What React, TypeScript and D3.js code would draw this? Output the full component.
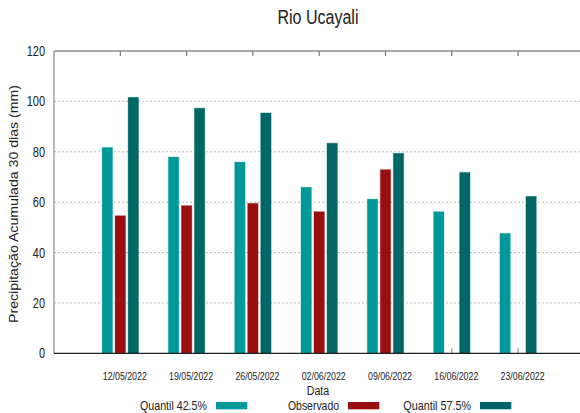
import React from "react";
import * as d3 from "d3";

const categories = ["12/05/2022", "19/05/2022", "26/05/2022", "02/06/2022", "09/06/2022", "16/06/2022", "23/06/2022"];
const seriesNames = ["Quantil 42.5%", "Observado", "Quantil 57.5%"];
const quantil425 = [81.7, 77.9, 75.9, 65.9, 61.2, 56.2, 47.6];
const observado: (number | null)[] = [54.6, 58.6, 59.5, 56.2, 72.9, null, null];
const quantil575 = [101.6, 97.3, 95.4, 83.4, 79.4, 71.8, 62.3];
const colors = ["#009999", "#990f0f", "#006666"];
const yTicks = [0, 20, 40, 60, 80, 100, 120];

const W = 580, H = 413;
const FONT = "'Liberation Sans', Arial, sans-serif";

export default function App() {
  const left = 54, top = 51, bottom = 353.3;
  const step = 66.3;
  const x = d3.scaleLinear().domain([0, 8]).range([left, left + step * 8]);
  const y = d3.scaleLinear().domain([0, 120]).range([bottom, top]);
  const band = d3.scaleBand<string>().domain(seriesNames).range([-19.5, 19.5]).paddingInner(0.2).paddingOuter(0.1);
  const all = [quantil425, observado, quantil575];
  const legendX = [216, 348, 480];
  const legendW = [67, 51, 67.7];

  return (
    <svg width={W} height={H} style={{ position: "absolute", left: 0, top: 0, background: "#fff" }} fontFamily={FONT}>
      <defs>
        <clipPath id="plot"><rect x={left} y={0} width={W - left} height={H} /></clipPath>
      </defs>
      <text x={318} y={24} textAnchor="middle" fontSize={19.5} fill="#222" textLength={81} lengthAdjust="spacingAndGlyphs">Rio Ucayali</text>
      {yTicks.filter(t => t > 0 && t < 120).map(t => (
        <line key={t} x1={left} x2={W} y1={y(t)} y2={y(t)} stroke="#bbb" strokeWidth={1} strokeDasharray="2,2" />
      ))}
      <line x1={left} x2={W} y1={top} y2={top} stroke="#555" strokeWidth={1.2} />
      {categories.map((c, i) => (
        <g key={c}>
          <line x1={x(i + 1)} x2={x(i + 1)} y1={top} y2={top + 5} stroke="#777" strokeWidth={1.2} />
          <line x1={x(i + 1)} x2={x(i + 1)} y1={bottom} y2={bottom - 5} stroke="#999" strokeWidth={1.2} />
        </g>
      ))}
      <g clipPath="url(#plot)">
        {all.map((vals, j) => vals.map((v, i) => v == null ? null : (
          <rect key={`${j}-${i}`}
            x={x(i + 1) + (band(seriesNames[j]) as number)}
            width={band.bandwidth()}
            y={y(v)}
            height={y(0) - y(v)}
            fill={colors[j]} stroke={colors[j]} strokeOpacity={0.35} strokeWidth={1} />
        )))}
      </g>
      <line x1={left} x2={left} y1={top} y2={bottom} stroke="#888" strokeWidth={1.2} />
      <line x1={left} x2={W} y1={bottom} y2={bottom} stroke="#222" strokeWidth={1.2} />
      {yTicks.map(t => (
        <text key={t} x={45} y={y(t) + 5} textAnchor="end" fontSize={14} fill="#222"
          textLength={String(t).length * 6.1} lengthAdjust="spacingAndGlyphs">{t}</text>
      ))}
      {categories.map((c, i) => (
        <text key={c} x={x(i + 1) + 4.5} y={380} textAnchor="middle" fontSize={10.7} fill="#222"
          textLength={44} lengthAdjust="spacingAndGlyphs">{c}</text>
      ))}
      <text x={318} y={395} textAnchor="middle" fontSize={12} fill="#222" textLength={22.6} lengthAdjust="spacingAndGlyphs">Data</text>
      <text transform={`translate(17.5,204) rotate(-90)`} textAnchor="middle" fontSize={13} fill="#222"
        textLength={238} lengthAdjust="spacingAndGlyphs">
        Precipitação Acumulada 30 dias (mm)
      </text>
      {seriesNames.map((s, j) => {
        const sx = legendX[j];
        return (
          <g key={s}>
            <text x={sx - 9} y={409.5} textAnchor="end" fontSize={13.5} fill="#222"
              textLength={legendW[j]} lengthAdjust="spacingAndGlyphs">{s}</text>
            <rect x={sx} y={402} width={31.3} height={7.3} fill={colors[j]} />
          </g>
        );
      })}
    </svg>
  );
}
